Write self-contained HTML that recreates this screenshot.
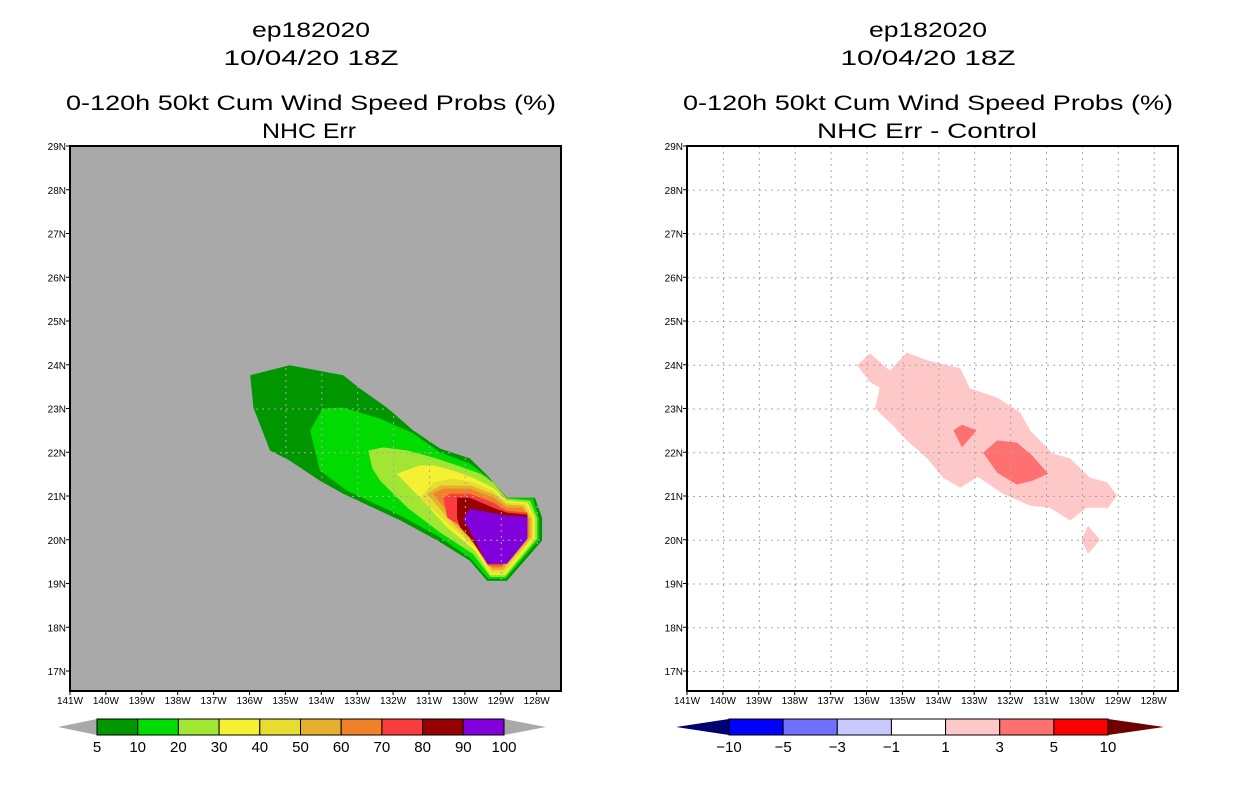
<!DOCTYPE html>
<html><head><meta charset="utf-8"><style>
html,body{margin:0;padding:0;background:#fff;}
svg{display:block;font-family:"Liberation Sans",sans-serif;}
</style></head><body>
<svg id="s" width="1236" height="800" viewBox="0 0 1236 800">
<g font-size="21" text-anchor="middle" fill="#000">
<text x="311" y="37" textLength="118" lengthAdjust="spacingAndGlyphs">ep182020</text>
<text x="311" y="65" textLength="175" lengthAdjust="spacingAndGlyphs">10/04/20 18Z</text>
<text x="311" y="110" textLength="490" lengthAdjust="spacingAndGlyphs">0-120h 50kt Cum Wind Speed Probs (%)</text>
<text x="309" y="138" textLength="94" lengthAdjust="spacingAndGlyphs">NHC Err</text>
</g>
<g font-size="21" text-anchor="middle" fill="#000">
<text x="928" y="37" textLength="118" lengthAdjust="spacingAndGlyphs">ep182020</text>
<text x="928" y="65" textLength="175" lengthAdjust="spacingAndGlyphs">10/04/20 18Z</text>
<text x="928" y="110" textLength="490" lengthAdjust="spacingAndGlyphs">0-120h 50kt Cum Wind Speed Probs (%)</text>
<text x="927" y="138" textLength="220" lengthAdjust="spacingAndGlyphs">NHC Err - Control</text>
</g>
</svg>
<script>
const lonTicks=[141,140,139,138,137,136,135,134,133,132,131,130,129,128];
const latTicks=[29,28,27,26,25,24,23,22,21,20,19,18,17];
const probLevels=[5,10,20,30,40,50,60,70,80,90,100];
const probColors=['#009600','#00dc00','#a0e632','#f5f032','#e6dc32','#e6af2d','#f08228','#fa3c3c','#960000','#8200dc'];
const diffLevels=[-10,-5,-3,-1,1,3,5,10];
const diffColors=['#0000ff','#7070ff','#c8c8ff','#ffffff','#ffc8c8','#ff7070','#ff0000'];
const prob5=[[135.98,23.76],[134.88,23.99],[133.39,23.76],[132.93,23.46],[132.17,23.02],[131.44,22.50],[130.68,22.08],[129.86,21.86],[129.38,21.47],[128.83,20.96],[128.05,20.96],[127.85,20.50],[127.85,19.98],[128.83,19.06],[129.38,19.06],[129.86,19.52],[130.76,19.98],[131.79,20.44],[133.39,21.05],[134.04,21.35],[134.88,21.81],[135.43,22.04],[135.89,23.02]];
const prob10=[[134.31,22.50],[133.96,23.00],[133.39,23.02],[132.36,22.77],[131.44,22.43],[130.68,21.99],[129.86,21.74],[129.35,21.42],[128.94,20.96],[128.10,20.94],[127.94,20.50],[127.94,20.00],[128.86,19.11],[129.35,19.11],[129.86,19.59],[130.76,20.09],[131.79,20.55],[133.28,21.12],[134.04,21.58]];
const prob20=[[132.69,22.04],[132.28,22.11],[131.60,22.04],[130.88,21.88],[130.22,21.70],[129.57,21.51],[129.21,21.31],[128.83,20.94],[128.18,20.89],[127.99,20.50],[127.99,20.02],[128.88,19.15],[129.29,19.15],[129.78,19.68],[130.68,20.16],[131.60,20.73],[132.36,21.35],[132.58,21.63]];
const prob30=[[131.90,21.51],[131.25,21.70],[130.87,21.70],[130.33,21.58],[129.78,21.42],[129.21,21.19],[128.83,20.89],[128.26,20.85],[128.05,20.50],[128.05,20.02],[128.88,19.20],[129.29,19.20],[129.72,19.75],[130.49,20.28],[131.25,20.96]];
const prob40=[[131.25,20.96],[130.87,21.31],[130.33,21.40],[129.78,21.31],[129.21,21.12],[128.83,20.85],[128.32,20.82],[128.10,20.50],[128.10,20.05],[128.91,19.24],[129.27,19.24],[129.67,19.79],[130.41,20.32]];
const prob50=[[131.06,21.05],[130.68,21.24],[129.86,21.24],[129.21,21.05],[128.83,20.80],[128.37,20.78],[128.15,20.48],[128.15,20.05],[128.94,19.31],[129.24,19.31],[129.64,19.82],[130.33,20.37]];
const prob60=[[130.89,21.05],[130.60,21.17],[129.86,21.17],[129.21,20.96],[128.83,20.73],[128.40,20.73],[128.21,20.46],[128.21,20.07],[128.97,19.36],[129.24,19.36],[129.59,19.86],[130.22,20.39]];
const prob70=[[130.60,20.96],[130.41,21.05],[129.86,21.05],[129.21,20.85],[128.83,20.66],[128.26,20.62],[128.26,20.09],[128.97,19.41],[129.35,19.41],[129.86,20.05],[130.22,20.37],[130.49,20.50]];
const prob80=[[130.22,20.96],[129.86,20.96],[129.21,20.73],[128.83,20.62],[128.26,20.57],[128.26,20.14],[128.99,19.45],[129.35,19.45],[129.86,20.05],[130.13,20.28],[130.22,20.50]];
const prob90=[[130.05,20.48],[129.86,20.71],[128.83,20.55],[128.26,20.53],[128.26,20.02],[128.83,19.45],[129.38,19.45],[129.86,20.21]];
const diffPink=[[136.26,23.99],[135.90,24.26],[135.43,23.92],[135.34,23.87],[134.88,24.28],[134.31,24.10],[133.39,23.92],[133.12,23.46],[132.36,23.25],[131.72,22.91],[131.44,22.50],[130.81,21.97],[130.33,21.86],[129.78,21.42],[129.29,21.31],[129.02,21.01],[129.27,20.73],[129.86,20.73],[130.33,20.44],[130.89,20.73],[131.44,20.78],[132.20,21.05],[132.90,21.44],[133.39,21.19],[133.87,21.42],[134.31,21.86],[134.88,22.27],[135.26,22.61],[135.76,23.00],[135.63,23.48],[135.90,23.60]];
const diffPinkDiamond=[[129.83,20.32],[129.49,20.00],[129.83,19.68],[130.02,20.00]];
const diffRedSmall=[[133.58,22.50],[133.34,22.63],[132.93,22.50],[133.34,22.11]];
const diffRedBig=[[132.75,21.99],[132.36,22.27],[131.81,22.22],[131.38,21.92],[130.94,21.51],[131.38,21.35],[131.81,21.26],[132.36,21.53]];

const NS='http://www.w3.org/2000/svg';
const svg=document.getElementById('s');
function mk(tag,attrs,parent){const e=document.createElementNS(NS,tag);for(const k in attrs)e.setAttribute(k,attrs[k]);(parent||svg).appendChild(e);return e;}
const T=146,B=691,W=491;
function xS(x0,lonW){return x0+(141-lonW)*35.9;}
function yS(lat){return T+(29-lat)*43.75;}
function pts(x0,arr){return arr.map(p=>xS(x0,p[0]).toFixed(1)+','+yS(p[1]).toFixed(1)).join(' ');}

function panel(x0,bg,name){
  const g=mk('g',{});
  
  
  const r=mk('rect',{x:x0,y:T,width:W,height:B-T,fill:bg},g);
  
  
  return g;
}
function grid(x0,g){
  const gg=mk('g',{stroke:'#a8a8a8','stroke-width':1,'stroke-dasharray':'2,4'},g);
  
  
  lonTicks.forEach(l=>{const x=xS(x0,l)+0.5;mk('line',{x1:x,x2:x,y1:T,y2:B},gg);});
  latTicks.forEach(l=>{const y=yS(l)+0.5;mk('line',{x1:x0,x2:x0+W,y1:y,y2:y},gg);});
}
function axes(x0,g){
  const f=mk('rect',{x:x0,y:T,width:W,height:B-T,fill:'none',stroke:'#000','stroke-width':2},g);
  
  
  const ax=mk('g',{'font-size':10,fill:'#000'},g);
  
  
  lonTicks.forEach(l=>{const x=xS(x0,l);mk('line',{x1:x,x2:x,y1:B,y2:B+4,stroke:'#000'},ax);
    const t=mk('text',{x:x,y:B+13,'text-anchor':'middle'},ax);t.textContent=l+'W';
    });
  const ay=mk('g',{'font-size':10,fill:'#000'},g);
  
  
  latTicks.forEach(l=>{const y=yS(l);mk('line',{x1:x0-4,x2:x0,y1:y,y2:y,stroke:'#000'},ay);
    const t=mk('text',{x:x0-4,y:y+4,'text-anchor':'end'},ay);t.textContent=l+'N';
    });
}
const L=70,R=687;
const gl=panel(L,'#a9a9a9','left-map-panel');
const probPolys=[prob5,prob10,prob20,prob30,prob40,prob50,prob60,prob70,prob80,prob90];
probPolys.forEach((p,i)=>{const e=mk('polygon',{points:pts(L,p),fill:probColors[i]},gl);
  
  });
grid(L,gl);axes(L,gl);
const gr=panel(R,'#ffffff','right-map-panel');
[[diffPink,4],[diffPinkDiamond,4],[diffRedSmall,5],[diffRedBig,5]].forEach(([p,c],i)=>{
  const e=mk('polygon',{points:pts(R,p),fill:diffColors[c]},gr);
  
  });
grid(R,gr);axes(R,gr);
function colorbar(x1,x2,levels,colors,tipL,tipR,tipStart,tipEnd,name){
  const g=mk('g',{});
  
  
  const y1=719,y2=735,ym=727,n=colors.length,w=(x2-x1)/n;
  const a=mk('polygon',{points:`${tipStart},${ym} ${x1},${y1} ${x1},${y2}`,fill:tipL},g);
  
  const b=mk('polygon',{points:`${tipEnd},${ym} ${x2},${y1} ${x2},${y2}`,fill:tipR},g);
  
  colors.forEach((c,i)=>{const r=mk('rect',{x:x1+i*w,y:y1,width:w,height:y2-y1,fill:c,stroke:'#000','stroke-width':1},g);
    });
  levels.forEach((v,i)=>{const t=mk('text',{x:x1+i*w,y:752,'text-anchor':'middle','font-size':15,fill:'#000'},g);
    t.textContent=v<0?'\u2212'+(-v):String(v);
    });
}
colorbar(97,504,probLevels,probColors,'#a9a9a9','#a9a9a9',58,546,'left-colorbar');
colorbar(729,1108,diffLevels,diffColors,'#000070','#700000',676,1164,'right-colorbar');
</script>
</body></html>
